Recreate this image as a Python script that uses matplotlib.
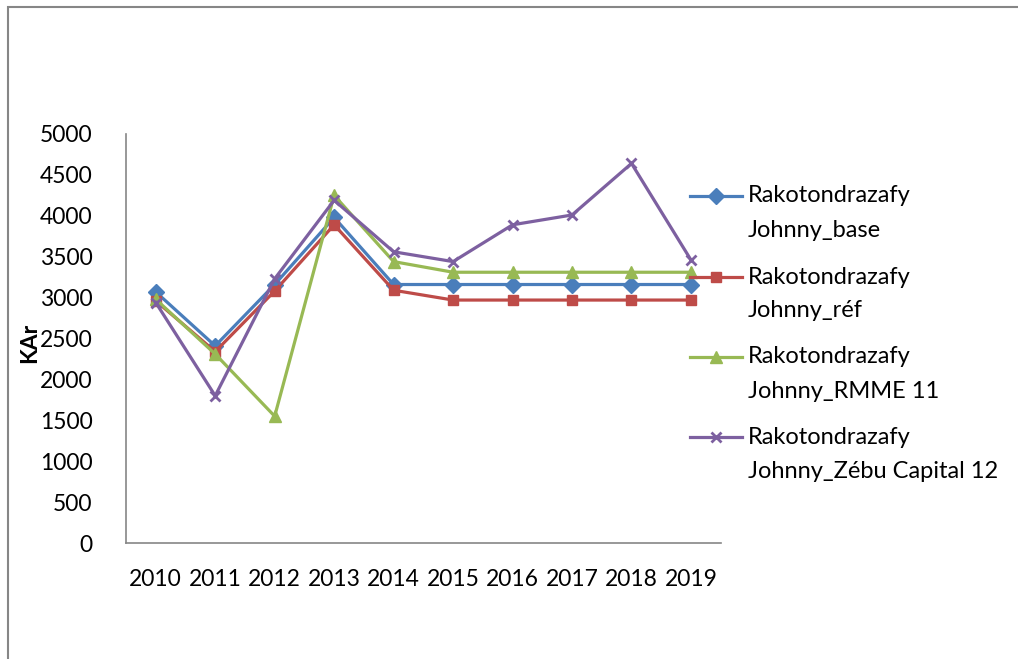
import matplotlib
matplotlib.use("Agg")
import matplotlib.pyplot as plt
from matplotlib.patches import Rectangle
from matplotlib.lines import Line2D

plt.rcParams['font.family'] = ['Lato', 'DejaVu Sans']

# Data
years = ["2010", "2011", "2012", "2013", "2014", "2015", "2016", "2017", "2018", "2019"]
base = [3070, 2410, 3160, 3980, 3160, 3160, 3160, 3160, 3160, 3160]
ref = [2960, 2340, 3080, 3890, 3090, 2970, 2970, 2970, 2970, 2970]
rmme = [2980, 2310, 1550, 4250, 3440, 3310, 3310, 3310, 3310, 3310]
zebu = [2940, 1800, 3230, 4190, 3560, 3440, 3890, 4010, 4640, 3460]

names = [("Rakotondrazafy", "Johnny_base"), ("Rakotondrazafy", "Johnny_réf"),
         ("Rakotondrazafy", "Johnny_RMME 11"), ("Rakotondrazafy", "Johnny_Zébu Capital 12")]
series = [base, ref, rmme, zebu]
colors = ["#4A7EBB", "#BE4B48", "#98B954", "#7D60A0"]
markers = ["D", "s", "^", "x"]
msizes = [8.5, 7, 8, 7]

W, H = 1018, 659
fig = plt.figure(figsize=(W / 100, H / 100), dpi=100)
ax = fig.add_axes([126 / W, 1 - 543 / H, (720.7 - 126) / W, (543 - 134) / H])

# outer frame
fig.patches.append(Rectangle((8 / W, -0.1), 1.2, 1.1 - 7 / H, transform=fig.transFigure,
                             fill=False, edgecolor="#868686", linewidth=1.5))

x = list(range(len(years)))
for vals, c, m, ms in zip(series, colors, markers, msizes):
    ax.plot(x, vals, color=c, marker=m, markersize=ms, linewidth=2.3,
            markeredgewidth=2 if m == "x" else 1, markeredgecolor=c)

ax.set_xlim(-0.5, len(years) - 0.5)
ax.set_ylim(0, 5000)
ax.set_yticks(range(0, 5001, 500))
ax.set_xticks(x)
ax.set_xticklabels(years)
ax.tick_params(axis='both', length=0, labelsize=16.5, colors="black")
ax.tick_params(axis='y', pad=24)
ax.tick_params(axis='x', pad=19)
for s in ["top", "right"]:
    ax.spines[s].set_visible(False)
for s in ["left", "bottom"]:
    ax.spines[s].set_color("#868686")
    ax.spines[s].set_linewidth(1.2)

ax.set_ylabel("KAr", fontsize=16.5, fontweight="bold")
ax.yaxis.set_label_coords((40 - 126) / (720.7 - 126), 0.49)

# legend drawn by hand so the handle sits on the first text line
leg_y = [196, 277, 357, 437]
for (l1, l2), c, m, ms, yy in zip(names, colors, markers, msizes, leg_y):
    fy = 1 - yy / H
    fig.add_artist(Line2D([690 / W, 742 / W], [fy, fy], color=c, linewidth=2.3,
                          transform=fig.transFigure))
    fig.add_artist(Line2D([716 / W], [fy], color=c, marker=m, markersize=ms,
                          markeredgewidth=2 if m == "x" else 1, markeredgecolor=c,
                          transform=fig.transFigure))
    fig.text(748 / W, fy, l1, fontsize=17, va="center", ha="left")
    fig.text(748 / W, 1 - (yy + 34) / H, l2, fontsize=17, va="center", ha="left")

fig.savefig("out.png", dpi=100, facecolor="white")
